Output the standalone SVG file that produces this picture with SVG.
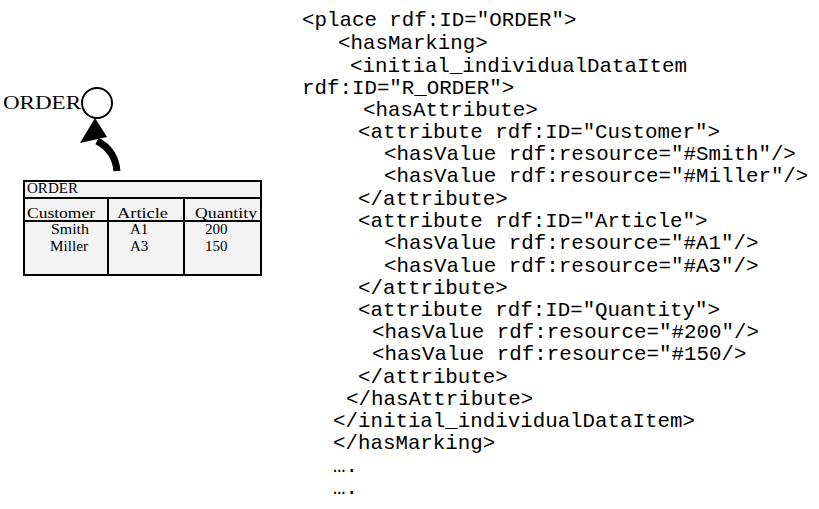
<svg xmlns="http://www.w3.org/2000/svg" width="819" height="509" viewBox="0 0 819 509">
  <style>
    .serif { font-family: "Liberation Serif", "Times New Roman", serif; fill: #000; }
    .lbl { font-size: 18px; }
    .cell { font-size: 15px; }
    .code { font-family: "Liberation Mono", "Courier New", monospace; font-size: 20.8px; fill: #000; }
    .grid { stroke: #000; stroke-width: 2; fill: none; }
  </style>

  <!-- place node -->
  <g id="place-order">
    <text class="serif lbl" x="3" y="109" textLength="78" lengthAdjust="spacingAndGlyphs">ORDER</text>
    <circle cx="97" cy="103" r="15" fill="#fff" stroke="#000" stroke-width="2"/>
  </g>

  <!-- marking table -->
  <g id="marking-table">
    <rect x="24" y="181" width="237" height="94" fill="#f3f3f3" stroke="#000" stroke-width="2"/>
    <line class="grid" x1="24" y1="198" x2="261" y2="198"/>
    <line class="grid" x1="24" y1="221" x2="261" y2="221"/>
    <line class="grid" x1="108" y1="198" x2="108" y2="275"/>
    <line class="grid" x1="184" y1="198" x2="184" y2="275"/>
    <text class="serif cell" x="27" y="193" textLength="51" lengthAdjust="spacingAndGlyphs">ORDER</text>
    <text class="serif cell" x="27" y="218" textLength="68" lengthAdjust="spacingAndGlyphs">Customer</text>
    <text class="serif cell" x="117" y="218" textLength="51" lengthAdjust="spacingAndGlyphs">Article</text>
    <text class="serif cell" x="195" y="218" textLength="62" lengthAdjust="spacingAndGlyphs">Quantity</text>
    <text class="serif cell" x="51" y="234" textLength="38" lengthAdjust="spacingAndGlyphs">Smith</text>
    <text class="serif cell" x="50" y="251" textLength="38" lengthAdjust="spacingAndGlyphs">Miller</text>
    <text class="serif cell" x="130" y="234">A1</text>
    <text class="serif cell" x="130" y="251">A3</text>
    <text class="serif cell" x="205" y="234">200</text>
    <text class="serif cell" x="205" y="251">150</text>
  </g>

  <!-- marking arrow from table to place -->
  <g id="connectors">
    <path d="M117,171 Q115,150 97,141" fill="none" stroke="#000" stroke-width="7"/>
    <polygon points="95,118 80,143 107,137" fill="#000"/>
  </g>

  <!-- RDF listing -->
  <g id="rdf-listing" class="code">
    <text x="302" y="26">&lt;place rdf:ID="ORDER"&gt;</text>
    <text x="338" y="49">&lt;hasMarking&gt;</text>
    <text x="350" y="72">&lt;initial_individualDataItem</text>
    <text x="302" y="94">rdf:ID="R_ORDER"&gt;</text>
    <text x="363" y="116">&lt;hasAttribute&gt;</text>
    <text x="358" y="138">&lt;attribute rdf:ID="Customer"&gt;</text>
    <text x="384" y="160">&lt;hasValue rdf:resource="#Smith"/&gt;</text>
    <text x="384" y="182">&lt;hasValue rdf:resource="#Miller"/&gt;</text>
    <text x="358" y="205">&lt;/attribute&gt;</text>
    <text x="358" y="227">&lt;attribute rdf:ID="Article"&gt;</text>
    <text x="384" y="249">&lt;hasValue rdf:resource="#A1"/&gt;</text>
    <text x="384" y="272">&lt;hasValue rdf:resource="#A3"/&gt;</text>
    <text x="358" y="294">&lt;/attribute&gt;</text>
    <text x="358" y="316">&lt;attribute rdf:ID="Quantity"&gt;</text>
    <text x="372" y="338">&lt;hasValue rdf:resource="#200"/&gt;</text>
    <text x="372" y="360">&lt;hasValue rdf:resource="#150/&gt;</text>
    <text x="358" y="383">&lt;/attribute&gt;</text>
    <text x="346" y="405">&lt;/hasAttribute&gt;</text>
    <text x="333" y="427">&lt;/initial_individualDataItem&gt;</text>
    <text x="333" y="449">&lt;/hasMarking&gt;</text>
    <text x="333" y="472">….</text>
    <text x="333" y="494">….</text>
  </g>
</svg>
